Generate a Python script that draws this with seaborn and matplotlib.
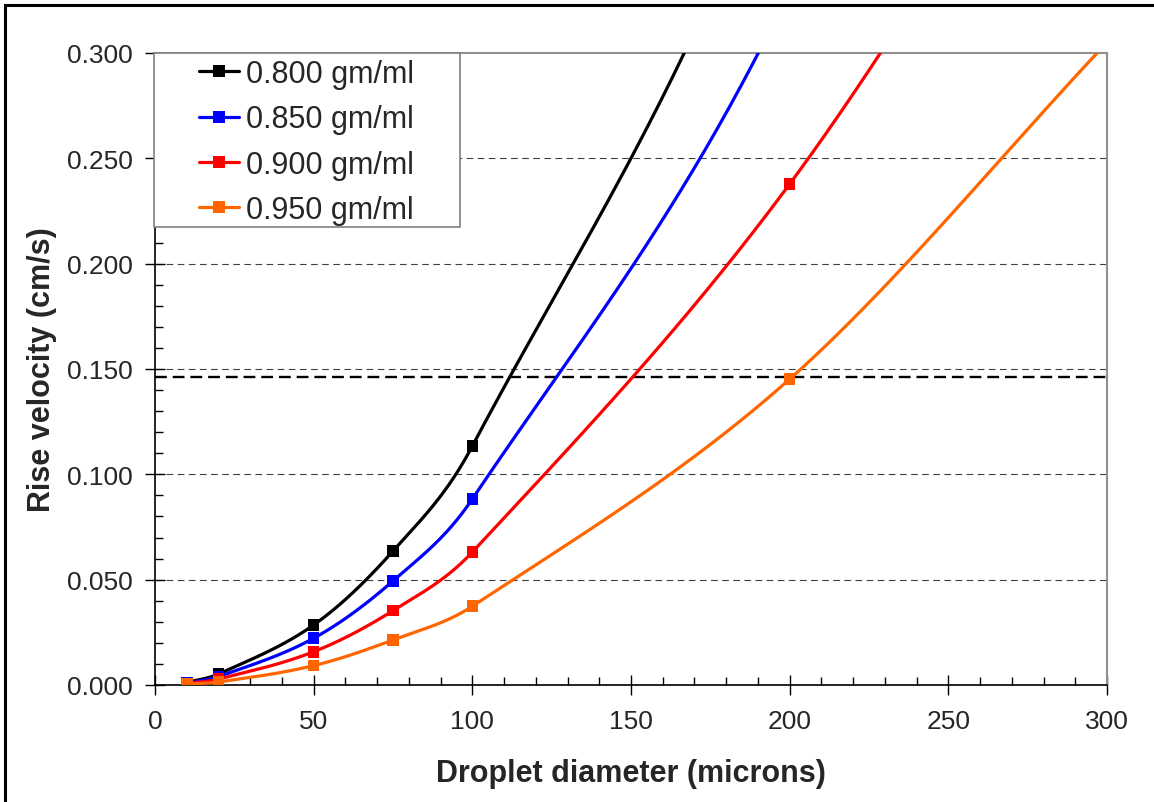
import numpy as np
import pandas as pd
import matplotlib
matplotlib.use("Agg")
import matplotlib.pyplot as plt
from matplotlib.lines import Line2D
from matplotlib.patches import Rectangle
from matplotlib.ticker import MultipleLocator, FormatStrFormatter
import seaborn as sns

# ---- data ----
diameters = [10, 20, 50, 75, 100, 200, 300]
labels = ["0.800 gm/ml", "0.850 gm/ml", "0.900 gm/ml", "0.950 gm/ml"]
v_080 = [0.0012, 0.0052, 0.0285, 0.0636, 0.1134, 0.42, 0.95]
v_085 = [0.0009, 0.0040, 0.0222, 0.0494, 0.0883, 0.33, 0.72]
v_090 = [0.0007, 0.0028, 0.0158, 0.0353, 0.0631, 0.2378, 0.47]
v_095 = [0.0004, 0.0014, 0.0092, 0.0214, 0.0374, 0.1452, 0.305]
threshold = 0.146
threshold_x = [0, 300]
colors = ["#000000", "#0000FF", "#FF0000", "#FF6600"]

series = [v_080, v_085, v_090, v_095]
df = pd.DataFrame({
    "d": diameters * 4,
    "v": sum(series, []),
    "density": sum([[l] * len(diameters) for l in labels], []),
})

sns.set_theme(style="white")
plt.rcParams["font.family"] = ["Liberation Sans", "DejaVu Sans"]

fig = plt.figure(figsize=(11.54, 8.03), dpi=100)
ax = fig.add_axes([155 / 1154, 1 - 686 / 803, 952 / 1154, 632 / 803])


def smooth(xs, ys, n=80):
    """Smoothed line through the points (cubic Hermite, centred slopes)."""
    x = np.asarray(xs, float)
    y = np.asarray(ys, float)
    m = np.empty_like(y)
    m[1:-1] = (y[2:] - y[:-2]) / (x[2:] - x[:-2])
    m[0] = (y[1] - y[0]) / (x[1] - x[0])
    m[-1] = (y[-1] - y[-2]) / (x[-1] - x[-2])
    ox, oy = [], []
    for i in range(len(x) - 1):
        h = x[i + 1] - x[i]
        s = np.linspace(0, 1, n)
        h00 = 2 * s ** 3 - 3 * s ** 2 + 1
        h10 = s ** 3 - 2 * s ** 2 + s
        h01 = -2 * s ** 3 + 3 * s ** 2
        h11 = s ** 3 - s ** 2
        yy = h00 * y[i] + h10 * h * m[i] + h01 * y[i + 1] + h11 * h * m[i + 1]
        xx = x[i] + s * h
        if i > 0:
            xx, yy = xx[1:], yy[1:]
        ox.append(xx)
        oy.append(yy)
    return np.concatenate(ox), np.concatenate(oy)


# gridlines
for yv in [0.05, 0.10, 0.15, 0.20, 0.25]:
    ax.axhline(yv, color="#404040", lw=0.8, dashes=(6, 4), zorder=0)

# threshold line
ax.plot(threshold_x, [threshold, threshold], color="black", lw=1.7, dashes=(5, 2.5), zorder=2)

for ys, c in zip(series, colors):
    sx, sy = smooth(diameters, ys)
    ax.plot(sx, sy, color=c, lw=2.3, zorder=3, solid_capstyle="butt")

sns.scatterplot(data=df, x="d", y="v", hue="density", palette=colors, hue_order=labels,
                marker="s", s=70, edgecolor="none", linewidth=0, legend=False, ax=ax, zorder=4)

ax.set_xlim(0, 300)
ax.set_ylim(0, 0.300)
ax.xaxis.set_major_locator(MultipleLocator(50))
ax.xaxis.set_minor_locator(MultipleLocator(10))
ax.yaxis.set_major_locator(MultipleLocator(0.05))
ax.yaxis.set_minor_locator(MultipleLocator(0.01))
ax.yaxis.set_major_formatter(FormatStrFormatter("%.3f"))
ax.tick_params(axis="both", which="major", direction="inout", length=14, width=1.0,
               color="black", labelsize=19, pad=9, bottom=True, left=True)
ax.tick_params(axis="both", which="minor", direction="in", length=6, width=1.0,
               color="black", bottom=True, left=True)
ax.tick_params(axis="x", which="major", pad=10)

for s in ["left", "bottom"]:
    ax.spines[s].set_color("black")
    ax.spines[s].set_linewidth(1.2)
for s in ["top", "right"]:
    ax.spines[s].set_color("#909090")
    ax.spines[s].set_linewidth(1.5)

ax.set_xlabel("Droplet diameter (microns)", fontsize=22, fontweight="bold", labelpad=18)
ax.set_ylabel("Rise velocity (cm/s)", fontsize=22, fontweight="bold", labelpad=7)

# legend
handles = [Line2D([0], [0], color=c, lw=2.3, marker="s", markersize=8, markeredgewidth=0)
           for c in colors]
frame = Rectangle((-1 / 952, (686 - 228) / 632), 306 / 952, 174 / 632, transform=ax.transAxes,
                  facecolor="white", edgecolor="#808080", lw=1.2, zorder=5, clip_on=False)
ax.add_patch(frame)
leg = ax.legend(handles, labels, loc="upper left", bbox_to_anchor=(44 / 952, 1 - 6 / 632),
                frameon=False, fontsize=22, handlelength=1.3, handletextpad=0.25,
                labelspacing=0.5, borderpad=0, borderaxespad=0)
leg.set_zorder(6)

# outer figure border (left and top visible)
fig.patches.append(Rectangle((5 / 1154, -0.2), 1.5, 0.2 + 1 - 6 / 803, transform=fig.transFigure,
                             fill=False, edgecolor="black", lw=2.2, zorder=10))

fig.savefig("out.png", dpi=100)
